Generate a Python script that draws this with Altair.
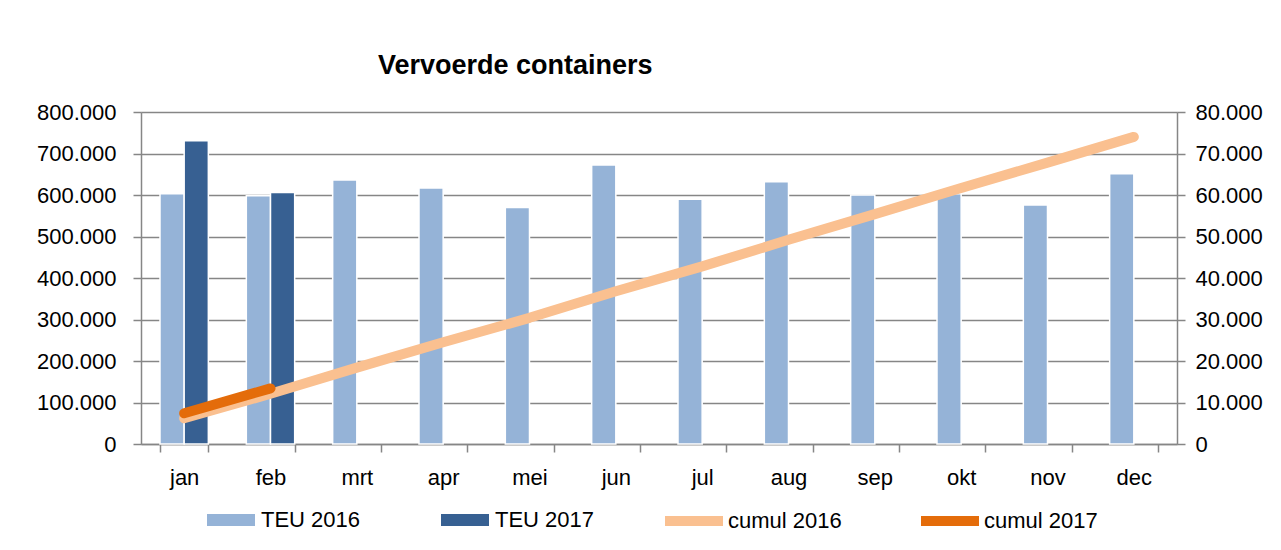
import altair as alt
import pandas as pd

months = ["jan", "feb", "mrt", "apr", "mei", "jun", "jul", "aug", "sep", "okt", "nov", "dec"]
teu_2016 = [603000, 598000, 636000, 617000, 570000, 672000, 590000, 632000, 600000, 603000, 576000, 651000]
teu_2017 = [731000, 606000]
cumul_2016 = [6200, 12100, 18400, 24500, 30400, 36800, 42800, 49200, 55400, 61700, 67800, 74000]
cumul_2017 = [7400, 13400]

bar_series = ["TEU 2016", "TEU 2017"]
line_series = ["cumul 2016", "cumul 2017"]
bar_colors = ["#95B3D7", "#376092"]
line_colors = ["#FAC090", "#E46C0A"]

left_ticks = [0, 100000, 200000, 300000, 400000, 500000, 600000, 700000, 800000]
right_ticks = [0, 10000, 20000, 30000, 40000, 50000, 60000, 70000, 80000]

FONT = "Liberation Sans"
GRAY = "#868686"

bar_rows = []
for m, v in zip(months, teu_2016):
    bar_rows.append({"month": m, "series": bar_series[0], "value": v})
for m, v in zip(months, teu_2017):
    bar_rows.append({"month": m, "series": bar_series[1], "value": v})
bar_df = pd.DataFrame(bar_rows)

line_rows = []
for m, v in zip(months, cumul_2016):
    line_rows.append({"month": m, "series": line_series[0], "value": v})
for m, v in zip(months, cumul_2017):
    line_rows.append({"month": m, "series": line_series[1], "value": v})
line_df = pd.DataFrame(line_rows)

label_expr = "replace(format(datum.value, ','), ',', '.')"

x_enc = alt.X(
    "month:N",
    sort=months,
    scale=alt.Scale(domain=months, paddingInner=0.44, paddingOuter=0.22),
    axis=alt.Axis(
        title=None, labelAngle=0, tickBand="extent", grid=False,
        domainColor=GRAY, tickColor=GRAY, domainWidth=1.5, tickWidth=1.5,
        tickSize=8, labelPadding=15, labelFontSize=22, labelFont=FONT,
        labelColor="black",
    ),
)

bars = alt.Chart(bar_df).mark_bar(stroke="white", strokeWidth=1.5).encode(
    x=x_enc,
    xOffset=alt.XOffset("series:N", scale=alt.Scale(domain=bar_series)),
    y=alt.Y(
        "value:Q",
        scale=alt.Scale(domain=[0, 800000]),
        axis=alt.Axis(
            title=None, values=left_ticks, labelExpr=label_expr, grid=True,
            gridColor=GRAY, gridWidth=1.5, domainColor=GRAY, domainWidth=1.5,
            tickColor=GRAY, tickWidth=1.5, tickSize=8, labelPadding=17,
            labelFontSize=22, labelFont=FONT, labelColor="black",
        ),
    ),
    fill=alt.Fill(
        "series:N",
        scale=alt.Scale(domain=bar_series, range=bar_colors),
        legend=alt.Legend(
            title=None, orient="none", legendX=66, legendY=384,
            direction="horizontal",
            symbolType="M-1,-0.25L1,-0.25L1,0.25L-1,0.25Z",
            symbolSize=2304, symbolStrokeWidth=0, labelFontSize=22,
            labelFont=FONT, labelColor="black", columnPadding=80, labelOffset=6,
        ),
    ),
)

lines = alt.Chart(line_df).mark_line(strokeWidth=10, strokeCap="round", strokeJoin="round").encode(
    x=alt.X("month:N", sort=months),
    y=alt.Y(
        "value:Q",
        scale=alt.Scale(domain=[0, 80000]),
        axis=alt.Axis(
            title=None, orient="right", values=right_ticks, labelExpr=label_expr,
            grid=False, domainColor=GRAY, domainWidth=1.5, tickColor=GRAY,
            tickWidth=1.5, tickSize=8, labelPadding=10, labelFontSize=22,
            labelFont=FONT, labelColor="black",
        ),
    ),
    stroke=alt.Stroke(
        "series:N",
        scale=alt.Scale(domain=line_series, range=line_colors),
        legend=alt.Legend(
            title=None, orient="none", legendX=519, legendY=375,
            direction="horizontal", symbolType="stroke", symbolSize=3364,
            symbolStrokeWidth=10, labelFontSize=22, labelFont=FONT,
            labelColor="black", columnPadding=59, labelOffset=0,
        ),
    ),
    detail="series:N",
)

chart = (
    alt.layer(bars, lines)
    .resolve_scale(y="independent", fill="independent", stroke="independent")
    .properties(
        width=1036,
        height=332,
        autosize=alt.AutoSizeParams(type="none"),
        padding={"left": 133, "top": 104, "right": 96, "bottom": 100},
        title=alt.Title(
            "Vervoerde containers", anchor="start", frame="group", dx=237,
            offset=21, fontSize=27, fontWeight="bold", font=FONT, color="black",
        ),
    )
    .configure_view(stroke=None)
    .configure(background="white")
)

chart.save("out.html", embed_options={"renderer": "svg", "actions": False})
